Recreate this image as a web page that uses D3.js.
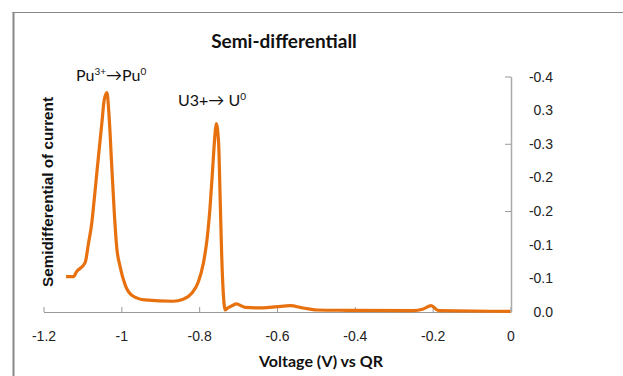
<!DOCTYPE html>
<html><head><meta charset="utf-8">
<script src="https://cdn.jsdelivr.net/npm/d3@7"></script>
<style>body{margin:0;background:#fff;} svg{display:block;}</style>
</head><body>
<script>
// Data (voltage V vs QR, semidifferential magnitude)
const voltage = [-1.142,-1.123,-1.115,-1.093,-1.085,-1.076,-1.068,-1.059,-1.050,-1.044,-1.037,-1.032,-1.025,-1.018,-1.012,-1.003,-0.990,-0.973,-0.939,-0.867,-0.841,-0.819,-0.802,-0.789,-0.780,-0.772,-0.765,-0.759,-0.756,-0.750,-0.746,-0.742,-0.738,-0.733,-0.727,-0.713,-0.705,-0.682,-0.635,-0.599,-0.566,-0.533,-0.497,-0.419,-0.250,-0.224,-0.204,-0.185,0.000];
const semidiff = [0.0525,0.0525,0.0599,0.0733,0.100,0.132,0.177,0.230,0.281,0.315,0.326,0.296,0.221,0.147,0.097,0.067,0.040,0.025,0.018,0.016,0.019,0.028,0.045,0.073,0.107,0.156,0.216,0.266,0.280,0.251,0.167,0.082,0.028,0.003,0.006,0.010,0.012,0.007,0.006,0.008,0.0094,0.006,0.003,0.0025,0.0019,0.0045,0.0094,0.0019,0.001];
const xTicks = [-1.2,-1,-0.8,-0.6,-0.4,-0.2,0];
const xTickLabels = ["-1.2","-1","-0.8","-0.6","-0.4","-0.2","0"];
const yLabelValues = [0,0.05,0.1,0.15,0.2,0.25,0.3,0.35];
const yTickLabels = ["0.0","-0.1","-0.1","-0.2","-0.2","-0.3","0.3","-0.4"];
const yTickMarks = [0.15,0.25,0.35];

const W = 623, H = 376;
const svg = d3.select("body").append("svg").attr("width", W).attr("height", H);

// outer frame
svg.append("line").attr("x1",12.5).attr("y1",12.5).attr("x2",640).attr("y2",12.5).attr("stroke","#888").attr("stroke-width",1);
svg.append("line").attr("x1",13.5).attr("y1",12).attr("x2",13.5).attr("y2",400).attr("stroke","#888").attr("stroke-width",2);

const x = d3.scaleLinear().domain([-1.2, 0]).range([43.5, 510.5]);
const y = d3.scaleLinear().domain([0, 0.35]).range([312, 76.5]);

const font = "'Liberation Sans', Arial, sans-serif";
const cal = "Lato, 'Open Sans', sans-serif";

// x axis
const xg = svg.append("g").attr("transform","translate(0,312)");
xg.call(d3.axisBottom(x).tickValues(xTicks).tickSize(-5).tickSizeOuter(0).tickFormat((d,i)=>xTickLabels[i]));
xg.select(".domain").attr("stroke","#999");
xg.selectAll(".tick line").attr("stroke","#999");
xg.selectAll(".tick text").attr("font-family",font).attr("font-size",14).attr("fill","#222").attr("dy",null).attr("y",28.5);

// right y axis
const yg = svg.append("g").attr("transform","translate(511,0)");
yg.call(d3.axisLeft(y).tickValues(yTickMarks).tickSize(6).tickSizeOuter(0).tickFormat(""));
yg.select(".domain").attr("stroke","#aaa").attr("stroke-width",1.5);
yg.selectAll(".tick line").attr("stroke","#999");
svg.append("g").selectAll("text").data(yLabelValues).join("text")
  .attr("x",553).attr("y",d=>y(d)+5).attr("text-anchor","end")
  .attr("font-family",font).attr("font-size",14).attr("fill","#222")
  .text((d,i)=>yTickLabels[i]);

// line
const line = d3.line().x((d,i)=>x(voltage[i])).y(d=>y(d)).curve(d3.curveMonotoneX);
svg.append("path").datum(semidiff).attr("d",line).attr("fill","none")
  .attr("stroke","#E8710F").attr("stroke-width",3.2).attr("stroke-linejoin","round");

// title
svg.append("text").attr("x",284).attr("y",48).attr("text-anchor","middle")
  .attr("font-family",cal).attr("font-weight","bold").attr("font-size",19).attr("fill","#111")
  .text("Semi-differentiall");

// axis titles
svg.append("text").attr("x",321).attr("y",367).attr("text-anchor","middle")
  .attr("font-family",cal).attr("font-weight","bold").attr("font-size",16).attr("fill","#111")
  .text("Voltage (V) vs QR");
svg.append("text").attr("transform","translate(53,192) rotate(-90)").attr("text-anchor","middle")
  .attr("font-family",font).attr("font-weight","bold").attr("font-size",14).attr("fill","#111")
  .attr("textLength",190).attr("lengthAdjust","spacingAndGlyphs")
  .text("Semidifferential of current");

// annotations
const a1 = svg.append("text").attr("x",76).attr("y",81).attr("font-family",cal).attr("font-size",16).attr("fill","#111");
a1.append("tspan").text("Pu");
a1.append("tspan").attr("font-size",10).attr("dy",-6).text("3+");
a1.append("tspan").attr("dy",6).text("\u2192Pu");
a1.append("tspan").attr("font-size",10).attr("dy",-6).text("0");
const a2 = svg.append("text").attr("x",178).attr("y",106).attr("font-family",cal).attr("font-size",16).attr("fill","#111");
a2.append("tspan").text("U3+\u2192 U");
a2.append("tspan").attr("font-size",10).attr("dy",-6).text("0");
</script>
</body></html>
